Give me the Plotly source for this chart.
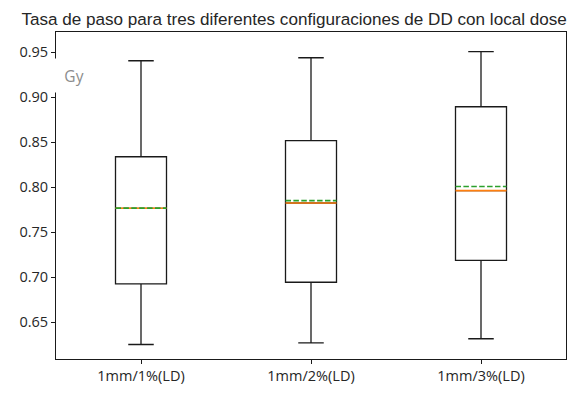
import plotly.graph_objects as go

# Box statistics for each DD configuration (local dose)
categories = ["1mm/1%(LD)", "1mm/2%(LD)", "1mm/3%(LD)"]
positions = [1, 2, 3]
lower_whisker = [0.6253, 0.6271, 0.6317]
q1_values = [0.6926, 0.6944, 0.7187]
median_values = [0.7765, 0.7824, 0.7961]
mean_values = [0.7767, 0.7850, 0.8007]
q3_values = [0.8337, 0.8516, 0.8892]
upper_whisker = [0.9403, 0.9436, 0.9504]
y_ticks = [0.65, 0.70, 0.75, 0.80, 0.85, 0.90, 0.95]

BOX_WIDTH = 0.3
TICK_FONT = dict(family="Open Sans, DejaVu Sans, sans-serif", size=14.5, color="#262626")

fig = go.Figure()

for p, lo, q1, med, q3, hi in zip(positions, lower_whisker, q1_values,
                                  median_values, q3_values, upper_whisker):
    fig.add_trace(go.Box(
        x=[p], q1=[q1], median=[med], q3=[q3],
        lowerfence=[lo], upperfence=[hi],
        width=BOX_WIDTH, whiskerwidth=0.5,
        fillcolor="rgba(255,255,255,0)",
        line=dict(color="#1a1a1a", width=1.3),
        boxpoints=False, showlegend=False, hoverinfo="skip",
    ))

# Median (solid orange) and mean (dashed green) lines across each box
for p, med in zip(positions, median_values):
    fig.add_trace(go.Scatter(
        x=[p - BOX_WIDTH / 2, p + BOX_WIDTH / 2], y=[med, med],
        mode="lines", line=dict(color="#ff7f0e", width=1.6),
        showlegend=False, hoverinfo="skip",
    ))
for p, mn in zip(positions, mean_values):
    fig.add_trace(go.Scatter(
        x=[p - BOX_WIDTH / 2, p + BOX_WIDTH / 2], y=[mn, mn],
        mode="lines", line=dict(color="#2ca02c", width=1.6, dash="5.5px,2.4px"),
        showlegend=False, hoverinfo="skip",
    ))

fig.update_layout(
    width=579, height=397,
    margin=dict(l=56, r=12, t=32, b=27),
    paper_bgcolor="white", plot_bgcolor="white",
    title=dict(
        text="Tasa de paso para tres diferentes configuraciones de DD con local dose",
        x=0.508, xanchor="center", xref="container",
        y=0.952, yanchor="middle", yref="container",
        font=dict(family="Liberation Sans Narrow, Arial Narrow, Liberation Sans, sans-serif",
                  size=17.1, color="#262626"),
    ),
    xaxis=dict(
        range=[0.5, 3.5], tickvals=positions, ticktext=categories,
        showgrid=False, zeroline=False,
        showline=True, mirror=True, linecolor="#1a1a1a", linewidth=1,
        ticks="outside", ticklen=4, tickcolor="#1a1a1a",
        tickfont=TICK_FONT,
    ),
    yaxis=dict(
        range=[0.6092, 0.9722], tickvals=y_ticks, tickformat=".2f",
        showgrid=False, zeroline=False,
        showline=True, mirror=True, linecolor="#1a1a1a", linewidth=1,
        ticks="outside", ticklen=4, tickcolor="#1a1a1a",
        tickfont=TICK_FONT,
    ),
    annotations=[dict(
        text="Gy", xref="paper", yref="paper",
        x=0.0352, y=0.868, xanchor="center", yanchor="middle",
        showarrow=False, width=40, height=31,
        bgcolor="white",
        font=dict(family="Open Sans, DejaVu Sans, sans-serif", size=15.5, color="#8c8c8c"),
    )],
)

fig.write_html("out.html")
